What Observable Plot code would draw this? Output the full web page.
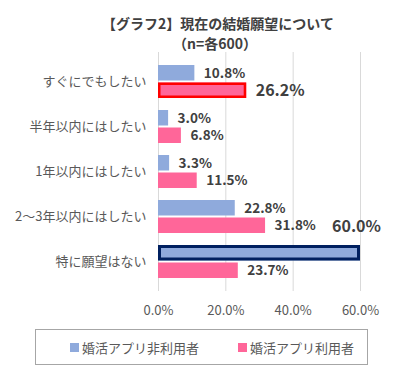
<!DOCTYPE html>
<html><head><meta charset="utf-8">
<script src="https://cdn.jsdelivr.net/npm/d3@7"></script>
<script src="https://cdn.jsdelivr.net/npm/@observablehq/plot@0.6"></script>
<style>
body{margin:0;background:#fff;font-family:"Noto Sans CJK JP","Noto Sans",sans-serif;}
#wrap{width:400px;height:374px;position:relative;overflow:hidden;}
.tl{position:absolute;left:0;width:436px;text-align:center;font-weight:bold;font-size:14px;line-height:20px;height:20px;color:#404040;white-space:nowrap;}
#chart{position:absolute;left:0;top:50px;}
#legend{position:absolute;left:35px;top:329px;width:331px;height:34px;border:1px solid #A6A6A6;font-size:13px;color:#595959;}
.item{display:flex;align-items:center;position:absolute;top:8px;}
.sw{width:9px;height:9px;margin-right:3px;}
</style></head>
<body><div id="wrap">
<div class="tl" style="top:13px">【グラフ2】現在の結婚願望について</div>
<div class="tl" style="top:33px;width:430px">（n=各600）</div>
<div id="chart"></div>
<div id="legend"></div>
</div>
<script>
const categories = ["すぐにでもしたい","半年以内にはしたい","1年以内にはしたい","2～3年以内にはしたい","特に願望はない"];
const series = ["婚活アプリ非利用者","婚活アプリ利用者"];
const nonUsers = [10.8, 3.0, 3.3, 22.8, 60.0];
const users = [26.2, 6.8, 11.5, 31.8, 23.7];
const xTicks = [0, 20, 40, 60];
const colors = ["#8FAADC", "#FF6699"];

const blue = categories.map((c,i)=>({cat:c, v:nonUsers[i], s:series[0]}));
const pink = categories.map((c,i)=>({cat:c, v:users[i], s:series[1]}));
const half = 17.5;
const fmt = d => d.v.toFixed(1) + "%";
const labelStyle = {fill:"#404040", fontWeight:"bold", fontSize:13.5, textAnchor:"start", dx:9};

const chart = Plot.plot({
  width: 400, height: 272,
  marginTop: 2, marginBottom: 31, marginLeft: 158, marginRight: 40,
  style: {fontFamily: '"Noto Sans CJK JP","Noto Sans",sans-serif', background: "transparent"},
  x: {domain: [0, 60], ticks: xTicks, tickFormat: d => d.toFixed(1) + "%", tickSize: 0, tickPadding: 14, label: null},
  y: {domain: categories, padding: 0.27, tickSize: 0, tickPadding: 12, label: null},
  marks: [
    Plot.ruleX(xTicks, {stroke: "#D9D9D9", strokeWidth: 1}),
    Plot.barX(blue, {x: "v", y: "cat", fill: colors[0], insetBottom: half}),
    Plot.barX(pink, {x: "v", y: "cat", fill: colors[1], insetTop: half}),
    Plot.barX(pink.filter(d => d.cat === categories[0]), {x: "v", y: "cat", fill: "none", stroke: "#FF0000", strokeWidth: 2.5, insetTop: half + 1.25, insetBottom: 1.25, insetLeft: 1.25, insetRight: 1.25}),
    Plot.barX(blue.filter(d => d.cat === categories[4]), {x: "v", y: "cat", fill: "none", stroke: "#002060", strokeWidth: 3, insetBottom: half + 1.5, insetTop: 1.5, insetLeft: 1.5, insetRight: 1.5}),
    Plot.text(blue.filter(d => d.cat !== categories[4]), {x: "v", y: "cat", text: fmt, dy: -half/2, ...labelStyle}),
    Plot.text(pink.filter(d => d.cat !== categories[0]), {x: "v", y: "cat", text: fmt, dy: half/2, ...labelStyle}),
    Plot.text(pink.filter(d => d.cat === categories[0]), {x: "v", y: "cat", text: fmt, dy: half/2, ...labelStyle, fontSize: 16}),
    Plot.text(blue.filter(d => d.cat === categories[4]), {x: "v", y: "cat", text: fmt, dy: -35, ...labelStyle, fontSize: 16, textAnchor: "middle", dx: -4})
  ]
});
chart.querySelectorAll("[aria-label$='tick label']").forEach(g => {g.setAttribute("font-size", "13"); g.setAttribute("fill", "#595959");});
document.getElementById("chart").appendChild(chart);

const lg = document.getElementById("legend");
const pos = [34, 202];
series.forEach((s,i) => {
  const it = document.createElement("div");
  it.className = "item";
  it.style.left = pos[i] + "px";
  it.innerHTML = `<div class="sw" style="background:${colors[i]}"></div><span>${s}</span>`;
  lg.appendChild(it);
});
</script>
</body></html>
